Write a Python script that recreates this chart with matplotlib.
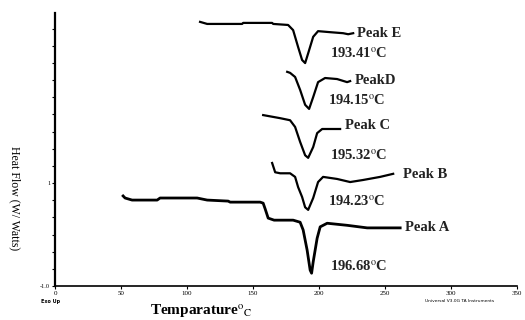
import numpy as np
import matplotlib
matplotlib.use("Agg")
import matplotlib.pyplot as plt
from matplotlib.ticker import MultipleLocator, FixedLocator

plt.rcParams["font.family"] = ["Liberation Serif", "DejaVu Serif"]
plt.rcParams["mathtext.fontset"] = "stix"
plt.rcParams["mathtext.default"] = "regular"

# ---- data (temperature in C, heat flow in plot units) ----
temp_a = [51.5, 53.0, 58.3, 77.3, 79.5, 107.6, 115.2, 131.1, 132.6, 155.3, 157.6, 159.1,
          161.4, 165.9, 180.3, 185.6, 187.9, 190.9, 193.2, 194.3, 195.5, 198.5, 200.8,
          206.1, 221.2, 236.4, 261.4]
flow_a = [0.75, 0.71, 0.67, 0.67, 0.71, 0.71, 0.67, 0.65, 0.63, 0.63, 0.61, 0.50,
          0.32, 0.28, 0.28, 0.24, 0.09, -0.30, -0.69, -0.75, -0.53, -0.07, 0.15,
          0.22, 0.18, 0.13, 0.13]

temp_b = [164.4, 166.7, 170.5, 178.0, 181.8, 184.1, 187.1, 189.4, 191.7, 195.5, 199.2,
          203.0, 213.6, 223.5, 233.3, 246.2, 256.1]
flow_b = [1.39, 1.21, 1.19, 1.19, 1.12, 0.92, 0.73, 0.53, 0.48, 0.71, 1.02,
          1.12, 1.08, 1.02, 1.06, 1.12, 1.18]

temp_c = [157.6, 170.5, 178.0, 181.8, 185.6, 189.4, 191.7, 195.5, 198.5, 202.3, 215.9]
flow_c = [2.32, 2.26, 2.22, 2.09, 1.80, 1.54, 1.49, 1.70, 1.97, 2.05, 2.05]

temp_d = [175.8, 178.0, 181.8, 185.6, 189.4, 192.4, 195.5, 199.2, 204.5, 213.6, 221.2, 223.5]
flow_d = [3.16, 3.14, 3.06, 2.81, 2.52, 2.44, 2.67, 2.96, 3.04, 3.02, 2.96, 2.98]

temp_e = [109.8, 115.2, 141.7, 142.4, 164.4, 165.2, 176.5, 180.3, 184.1, 187.1, 189.4,
          191.7, 195.5, 199.2, 208.3, 218.2, 222.0, 225.8]
flow_e = [4.13, 4.09, 4.09, 4.11, 4.11, 4.09, 4.07, 3.97, 3.64, 3.39, 3.33,
          3.52, 3.84, 3.95, 3.93, 3.91, 3.89, 3.91]

peak_names = ["Peak A", "Peak B", "Peak C", "PeakD", "Peak E"]
peak_temps = ["196.68", "194.23", "195.32", "194.15", "193.41"]

x_ticks = [0, 50, 100, 150, 200, 250, 300, 350]
y_labeled = [-1.0, 1.0]
y_labels = ["-1.0", "1"]

fig = plt.figure(figsize=(5.25, 3.2), dpi=100)
ax = fig.add_axes([0.105, 0.106, 0.88, 0.853])

ax.plot(temp_a, flow_a, color="black", lw=2.0)
ax.plot(temp_b, flow_b, color="black", lw=1.6)
ax.plot(temp_c, flow_c, color="black", lw=1.6)
ax.plot(temp_d, flow_d, color="black", lw=1.6)
ax.plot(temp_e, flow_e, color="black", lw=1.6)

ax.set_xlim(0, 350)
ax.set_ylim(-1.0, 4.3)

for s in ["top", "right"]:
    ax.spines[s].set_visible(False)
ax.spines["left"].set_linewidth(1.6)
ax.spines["bottom"].set_linewidth(1.2)

ax.set_xticks(x_ticks)
ax.set_xticklabels([str(t) for t in x_ticks], fontsize=5)
ax.yaxis.set_major_locator(FixedLocator(y_labeled))
ax.set_yticklabels(y_labels, fontsize=4.5)
ax.yaxis.set_minor_locator(MultipleLocator(1 / 3))
ax.tick_params(axis="both", which="both", direction="out", length=2.5, width=0.8, pad=1)
ax.tick_params(axis="y", which="minor", length=2.5)

# peak annotations
label_font = dict(fontsize=10.5, fontweight="bold", color="#222222")
name_pos = [(265.2, 0.13), (263.6, 1.17), (219.7, 2.11), (227.3, 3.00), (228.8, 3.91)]
temp_pos = [(208.3, -0.61), (206.8, 0.65), (208.3, 1.54), (206.8, 2.61), (208.3, 3.52)]
for name, (nx, ny) in zip(peak_names, name_pos):
    ax.text(nx, ny, name, ha="left", va="center", **label_font)
for t, (tx, ty) in zip(peak_temps, temp_pos):
    ax.text(tx, ty, t + r"$^{\mathrm{o}}$C", ha="left", va="center", **label_font)

# axis titles and instrument notes
fig.text(0.285, 0.004, r"Temparature$^{\mathrm{o}}$$_{\mathrm{C}}$", fontsize=11,
         fontweight="bold", ha="left", va="bottom")
fig.text(0.028, 0.38, "Heat Flow (W/ Watts)", fontsize=8.5, rotation=270,
         ha="center", va="center")
fig.text(0.078, 0.058, "Exo Up", fontsize=3.5, fontweight="bold", ha="left", va="center",
         family="DejaVu Sans")
fig.text(0.875, 0.06, "Universal V3.0G TA Instruments", fontsize=3.2, ha="center",
         va="center", family="DejaVu Sans")

fig.savefig("out.png", dpi=100)
